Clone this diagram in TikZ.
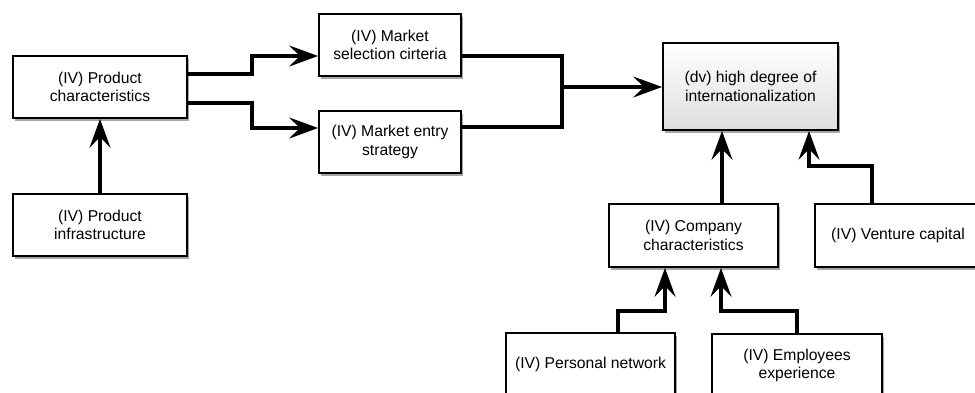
\documentclass[tikz,border=0pt]{standalone}
\usepackage{fontspec}
\setmainfont{Liberation Sans}
\usetikzlibrary{arrows.meta,shadows,calc}
\tikzset{
  box/.style={draw=black, line width=1.8pt, fill=white, align=center,
    minimum height=62pt, inner sep=2pt,
    font=\fontsize{15.7}{18.5}\selectfont,
    drop shadow={shadow xshift=1.5pt, shadow yshift=-3pt, opacity=0.35, fill=black}},
  dvbox/.style={box, top color=white, bottom color=black!13, minimum height=87pt},
  conn/.style={line width=3.2pt, line join=miter},
  arr/.style={conn, -{Stealth[length=29pt, width=21pt, inset=11pt]}}
}
\begin{document}
\begin{tikzpicture}[x=1pt, y=-1pt]
\useasboundingbox (0,0) rectangle (975,392);
% nodes
\node[box, minimum width=174pt] (pc) at (100,87) {(IV) Product\\characteristics};
\node[box, minimum width=174pt] (pi) at (100,225) {(IV) Product\\infrastructure};
\node[box, minimum width=142pt] (ms) at (390,45) {(IV) Market\\selection cirteria};
\node[box, minimum width=142pt] (me) at (390,142) {(IV) Market entry\\strategy};
\node[dvbox, minimum width=175pt] (dv) at (750.5,86.5) {(dv) high degree of\\internationalization};
\node[box, minimum width=169pt, minimum height=63pt] (cc) at (693.5,235.5) {(IV) Company\\characteristics};
\node[box, minimum width=166pt, minimum height=63pt] (vc) at (898,235.5) {(IV) Venture capital};
\node[box, minimum width=169pt, minimum height=63pt] (pn) at (590.5,364.5) {(IV) Personal network};
\node[box, minimum width=170pt, minimum height=63pt] (ee) at (797,365.5) {(IV) Employees\\experience};
\coordinate (j) at (562,87);
% connectors
\draw[arr] (pi.north) -- (pc.south);
\draw[arr] (pc.east |- 0,74) -- (252,74) |- (ms.west |- 0,56);
\draw[arr] (pc.east |- 0,103) -- (252,103) |- (me.west |- 0,128);
\draw[conn] (ms.east |- 0,56) -| (j);
\draw[conn] (me.east |- 0,127) -| (j);
\draw[arr] (j) -- (dv.west |- j);
\draw[arr] (cc.north -| 722,0) -- (dv.south -| 722,0);
\draw[arr] (vc.north -| 872,0) -- (872,166) -| (dv.south -| 809,0);
\draw[arr] (pn.north -| 618,0) -- (618,311) -| (cc.south -| 665,0);
\draw[arr] (ee.north -| 797,0) -- (797,311) -| (cc.south -| 721,0);
\end{tikzpicture}
\end{document}
